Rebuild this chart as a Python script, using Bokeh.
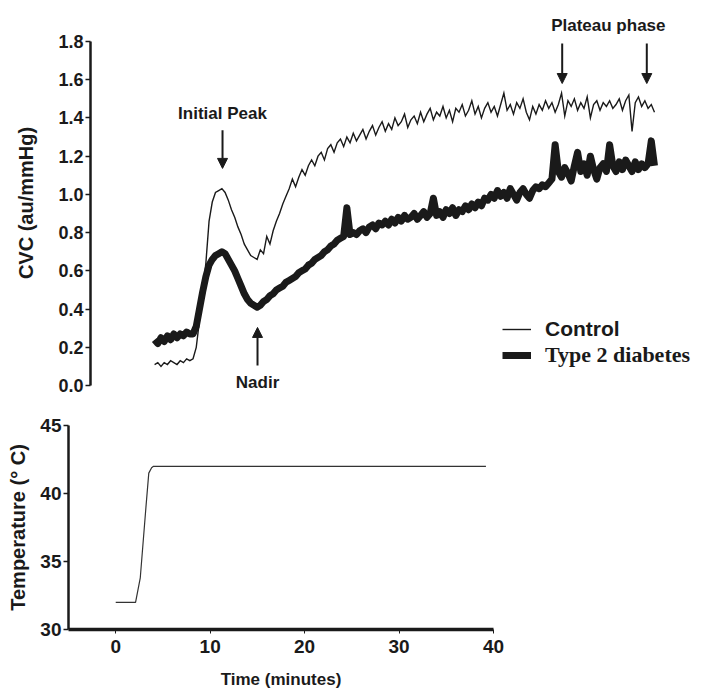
from bokeh.plotting import figure
from bokeh.layouts import column
from bokeh.models import Label, Arrow, NormalHead, Legend, LegendItem, FixedTicker, Range1d
from bokeh.embed import file_html
from bokeh.resources import INLINE

# ---------------- data ----------------
# CVC sampled every 0.25 min from 0 to 39 min
cvc_step = 0.25
control = [
    0.11, 0.12, 0.10, 0.12, 0.11, 0.13, 0.12, 0.11, 0.13, 0.12, 0.14, 0.13,
    0.14, 0.20, 0.34, 0.50, 0.64, 0.86, 0.96, 1.01, 1.02, 1.03, 1.01, 0.97,
    0.92, 0.88, 0.83, 0.79, 0.74, 0.71, 0.68, 0.67, 0.66, 0.71, 0.69, 0.78,
    0.74, 0.81, 0.86, 0.90, 0.95, 0.99, 1.03, 1.08, 1.04, 1.09, 1.13, 1.10,
    1.15, 1.18, 1.15, 1.20, 1.22, 1.18, 1.24, 1.26, 1.22, 1.27, 1.29, 1.25,
    1.30, 1.27, 1.32, 1.28, 1.31, 1.34, 1.29, 1.33, 1.36, 1.31, 1.35, 1.38,
    1.33, 1.37, 1.34, 1.40, 1.36, 1.38, 1.42, 1.35, 1.39, 1.41, 1.37, 1.43,
    1.38, 1.42, 1.45, 1.39, 1.43, 1.41, 1.46, 1.40, 1.44, 1.38, 1.45, 1.43,
    1.47, 1.41, 1.44, 1.49, 1.42, 1.46, 1.40, 1.45, 1.48, 1.43, 1.46, 1.41,
    1.47, 1.53, 1.44, 1.47, 1.42, 1.48, 1.45, 1.50, 1.43, 1.39, 1.46, 1.42,
    1.47, 1.44, 1.49, 1.45, 1.48, 1.43, 1.47, 1.53, 1.41, 1.49, 1.46, 1.50,
    1.44, 1.48, 1.45, 1.51, 1.40, 1.47, 1.49, 1.44, 1.48, 1.46, 1.49, 1.45,
    1.47, 1.50, 1.44, 1.49, 1.52, 1.33, 1.48, 1.51, 1.46, 1.49, 1.45, 1.47,
    1.43,
]
t2d = [
    0.24, 0.22, 0.25, 0.23, 0.26, 0.24, 0.27, 0.25, 0.27, 0.26, 0.28, 0.27,
    0.27, 0.31, 0.40, 0.49, 0.57, 0.63, 0.66, 0.68, 0.69, 0.70, 0.69, 0.66,
    0.63, 0.60, 0.56, 0.52, 0.48, 0.45, 0.43, 0.42, 0.41, 0.42, 0.44, 0.45,
    0.47, 0.48, 0.50, 0.51, 0.52, 0.54, 0.55, 0.56, 0.57, 0.59, 0.60, 0.61,
    0.63, 0.64, 0.66, 0.67, 0.68, 0.70, 0.71, 0.73, 0.74, 0.76, 0.77, 0.78,
    0.93, 0.79, 0.80, 0.79, 0.81, 0.82, 0.80, 0.83, 0.84, 0.82, 0.85, 0.84,
    0.86, 0.84, 0.87, 0.85, 0.88, 0.86, 0.89, 0.87, 0.88, 0.90, 0.87, 0.89,
    0.91, 0.88, 0.90, 0.98, 0.89, 0.91, 0.88, 0.92, 0.90, 0.93, 0.89, 0.92,
    0.91, 0.94, 0.92, 0.95, 0.93, 0.96, 0.94, 0.98, 0.97, 1.00, 0.98, 1.02,
    0.99, 1.01, 0.98, 1.03, 1.00, 0.97, 1.01, 1.03, 1.00, 0.98, 1.02, 1.04,
    1.03, 1.05, 1.04, 1.06, 1.08, 1.26, 1.12, 1.09, 1.14, 1.11, 1.07, 1.15,
    1.22, 1.12, 1.16, 1.10, 1.20, 1.13, 1.08, 1.14, 1.16, 1.12, 1.26, 1.15,
    1.12, 1.17, 1.13, 1.18, 1.15, 1.12, 1.17, 1.13, 1.16, 1.14, 1.16, 1.28,
    1.15,
]
time_cvc = [i * cvc_step for i in range(len(control))]

temp_time = [0.0, 2.1, 2.6, 3.2, 3.5, 3.8, 4.0, 39.2]
temp = [32.0, 32.0, 33.8, 39.0, 41.5, 41.9, 42.0, 42.0]

cvc_ticks = [0.0, 0.2, 0.4, 0.6, 0.8, 1.0, 1.2, 1.4, 1.6, 1.8]
cvc_tick_labels = ["0.0", "0.2", "0.4", "0.6", "0.8", "1.0", "1.2", "1.4", "1.6", "1.8"]
temp_ticks = [30, 35, 40, 45]
time_ticks = [0, 10, 20, 30, 40]

SANS = "Liberation Sans"
SERIF = "Liberation Serif"
INK = "#1a1a1a"

# ---------------- top panel ----------------
# frame is larger than the drawn axis so that the annotations are not clipped
p1 = figure(width=705, height=400, x_range=Range1d(-5, 42.98), y_range=Range1d(-0.052, 1.962),
            x_axis_location=None, toolbar_location=None, output_backend="svg",
            min_border_left=90, min_border_right=0, min_border_top=10, min_border_bottom=5,
            frame_align=False)
p1.outline_line_color = None
p1.grid.grid_line_color = None
p1.background_fill_color = "white"
p1.border_fill_color = "white"

ya = p1.yaxis[0]
ya.bounds = (0, 1.8)
ya.ticker = FixedTicker(ticks=cvc_ticks)
ya.major_label_overrides = {t: l for t, l in zip(cvc_ticks, cvc_tick_labels)}
ya.axis_label = "CVC (au/mmHg)"
ya.axis_label_text_font = SANS
ya.axis_label_text_font_style = "bold"
ya.axis_label_text_font_size = "20px"
ya.axis_label_text_color = INK
ya.axis_label_standoff = 18
ya.major_label_text_font = SANS
ya.major_label_text_font_style = "bold"
ya.major_label_text_font_size = "18px"
ya.major_label_text_color = INK
ya.major_label_standoff = 2
ya.axis_line_width = 2.5
ya.axis_line_color = INK
ya.major_tick_line_width = 1.5
ya.major_tick_line_color = INK
ya.major_tick_out = 5
ya.major_tick_in = 0
ya.minor_tick_line_color = None

r_ctrl = p1.line(time_cvc, control, line_color=INK, line_width=1.4, line_join="miter")
r_t2d = p1.line(time_cvc, t2d, line_color=INK, line_width=7, line_join="round")

lg1 = Legend(items=[LegendItem(label="Control", renderers=[r_ctrl])],
             location=(412, 54), glyph_width=29, glyph_height=20, label_standoff=14,
             padding=0, margin=0, border_line_color=None, background_fill_alpha=0,
             label_text_font=SANS, label_text_font_style="bold",
             label_text_font_size="21px", label_text_color=INK)
lg2 = Legend(items=[LegendItem(label="Type 2 diabetes", renderers=[r_t2d])],
             location=(412, 27), glyph_width=29, glyph_height=20, label_standoff=14,
             padding=0, margin=0, border_line_color=None, background_fill_alpha=0,
             label_text_font=SERIF, label_text_font_style="bold",
             label_text_font_size="22px", label_text_color=INK)
p1.add_layout(lg1)
p1.add_layout(lg2)

def note(x, y, text):
    p1.add_layout(Label(x=x, y=y, text=text, text_align="center", text_baseline="middle",
                        text_font=SANS, text_font_style="bold", text_font_size="17px",
                        text_color=INK))

def arrow(x, y0, y1):
    p1.add_layout(Arrow(x_start=x, y_start=y0, x_end=x, y_end=y1, line_width=2,
                        line_color=INK,
                        end=NormalHead(size=10, fill_color=INK, line_color=INK)))

note(5.3, 1.424, "Initial Peak")
arrow(5.3, 1.335, 1.136)
note(8.03, 0.016, "Nadir")
arrow(8.03, 0.105, 0.304)
note(35.4, 1.885, "Plateau phase")
arrow(31.8, 1.79, 1.58)
arrow(38.4, 1.79, 1.58)

# ---------------- bottom panel ----------------
p2 = figure(width=510, height=293, x_range=Range1d(-5, 40), y_range=Range1d(30, 45),
            toolbar_location=None, output_backend="svg",
            min_border_left=68, min_border_right=17, min_border_top=25, min_border_bottom=64,
            frame_align=False)
p2.outline_line_color = None
p2.grid.grid_line_color = None

for ax in (p2.xaxis[0], p2.yaxis[0]):
    ax.axis_label_text_font = SANS
    ax.axis_label_text_font_style = "bold"
    ax.axis_label_text_color = INK
    ax.major_label_text_font = SANS
    ax.major_label_text_font_style = "bold"
    ax.major_label_text_font_size = "19px"
    ax.major_label_text_color = INK
    ax.axis_line_color = INK
    ax.major_tick_line_color = INK
    ax.major_tick_in = 0
    ax.minor_tick_line_color = None

xa = p2.xaxis[0]
xa.ticker = FixedTicker(ticks=time_ticks)
xa.axis_label = "Time (minutes)"
xa.axis_label_text_font_size = "17px"
xa.axis_label_standoff = 14
xa.major_label_standoff = 6
xa.axis_line_width = 3.5
xa.major_tick_line_width = 1
xa.major_tick_out = 4

yb = p2.yaxis[0]
yb.ticker = FixedTicker(ticks=temp_ticks)
yb.axis_label = "Temperature (\u00b0 C)"
yb.axis_label_text_font_size = "20px"
yb.axis_label_standoff = 8
yb.major_label_standoff = 2
yb.axis_line_width = 2.5
yb.major_tick_line_width = 1.5
yb.major_tick_out = 5

p2.line(temp_time, temp, line_color="#333333", line_width=1.2)

layout = column(p1, p2, spacing=0)
open("out.html", "w").write(file_html(layout, INLINE))
